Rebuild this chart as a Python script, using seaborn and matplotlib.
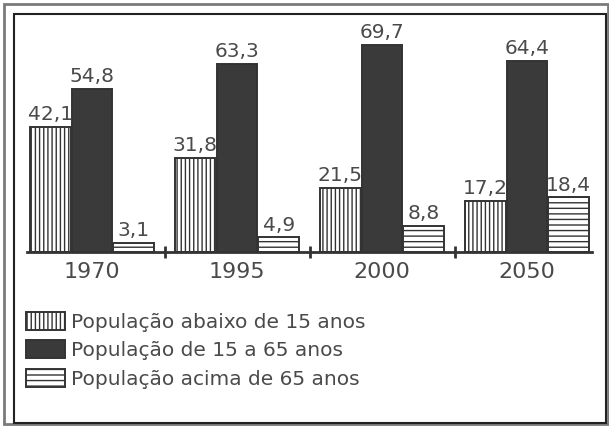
import numpy as np
import pandas as pd
import matplotlib
matplotlib.use("Agg")
import matplotlib.pyplot as plt
import matplotlib.patches as mpatches
import seaborn as sns

anos = ["1970", "1995", "2000", "2050"]
grupos = ["População abaixo de 15 anos",
          "População de 15 a 65 anos",
          "População acima de 65 anos"]
abaixo_15 = [42.1, 31.8, 21.5, 17.2]
de_15_a_65 = [54.8, 63.3, 69.7, 64.4]
acima_65 = [3.1, 4.9, 8.8, 18.4]

df = pd.DataFrame({
    "ano": anos * 3,
    "grupo": [grupos[0]] * 4 + [grupos[1]] * 4 + [grupos[2]] * 4,
    "valor": abaixo_15 + de_15_a_65 + acima_65,
})

sns.set_theme(style="white")
plt.rcParams["font.family"] = ["DejaVu Sans"]
plt.rcParams["hatch.linewidth"] = 1.0

tinta = "#333333"
texto = "#4a4a4a"
faces = ["white", "#3a3a3a", "white"]
hatches = ["||||", "", "---"]

W, H = 609, 428
fig = plt.figure(figsize=(W / 100, H / 100), dpi=100)
fig.patch.set_facecolor("white")

# axes placed in pixel terms: group spacing 145px, baseline at y=252
x0, x1 = -0.45, 3.45
left_px = 92 + x0 * 145
width_px = (x1 - x0) * 145
ymax = 75
h_px = ymax * 2.97
ax = fig.add_axes([left_px / W, (H - 252) / H, width_px / W, h_px / H])

sns.barplot(data=df, x="ano", y="valor", hue="grupo", order=anos,
            hue_order=grupos, palette=faces, width=0.86, gap=0.03,
            errorbar=None, legend=False, ax=ax,
            edgecolor=tinta, linewidth=1.4)

for cont, hat, vals in zip(ax.containers, hatches, [abaixo_15, de_15_a_65, acima_65]):
    for bar in cont:
        bar.set_hatch(hat)
        bar.set_edgecolor(tinta)
    ax.bar_label(cont, labels=[f"{v:.1f}".replace(".", ",") for v in vals],
                 padding=2, fontsize=14.5, color=texto)

ax.set_xlim(x0, x1)
ax.set_ylim(0, ymax)
ax.set_xlabel("")
ax.set_ylabel("")
ax.set_yticks([])
for s in ["top", "left", "right"]:
    ax.spines[s].set_visible(False)
ax.spines["bottom"].set_color(tinta)
ax.spines["bottom"].set_linewidth(2)
ax.set_xticks([0.5, 1.5, 2.5], minor=True)
ax.tick_params(axis="x", which="minor", direction="inout", length=9,
               width=2, color=tinta, bottom=True)
ax.tick_params(axis="x", which="major", length=0, pad=7,
               labelsize=16, labelcolor=texto)
ax.patch.set_alpha(0)

# legend
handles = [mpatches.Patch(facecolor=f, edgecolor=tinta, hatch=h, linewidth=1.4)
           for f, h in zip(faces, hatches)]
fig.legend(handles, grupos, loc="upper left",
           bbox_to_anchor=(26 / W, (H - 312) / H), frameon=False,
           fontsize=14.5, labelcolor=texto, handlelength=1.95, handleheight=1.0,
           handletextpad=0.3, labelspacing=0.42, borderpad=0, borderaxespad=0)

# frames
fig.add_artist(mpatches.Rectangle((4 / W, 4 / H), 604 / W, 420 / H,
                                  transform=fig.transFigure, fill=False,
                                  edgecolor="#7a7a7a", linewidth=2))
fig.add_artist(mpatches.Rectangle((14 / W, (H - 423) / H), 592 / W, 409 / H,
                                  transform=fig.transFigure, fill=False,
                                  edgecolor="#222222", linewidth=1.5))

fig.savefig("out.png", dpi=100)
